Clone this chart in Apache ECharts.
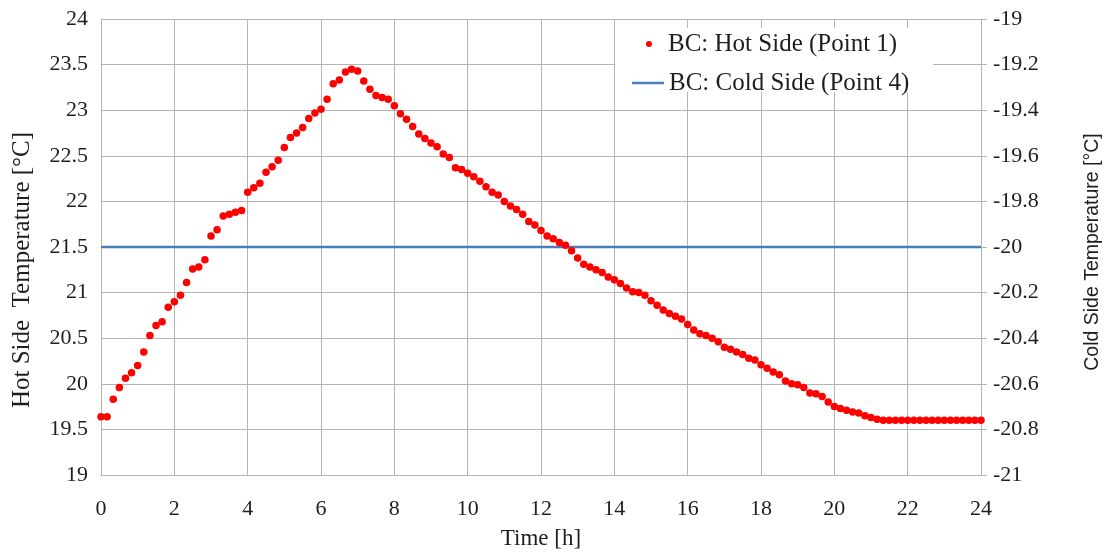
<!DOCTYPE html>
<html>
<head>
<meta charset="utf-8">
<script src="https://cdn.jsdelivr.net/npm/echarts@6/dist/echarts.min.js"></script>
<style>html,body{margin:0;padding:0;background:#fff}#c{width:1108px;height:556px}</style>
</head>
<body>
<div id="c"></div>
<script>
// Hot side temperature readings, one every 10 minutes (0 h ... 24 h)
const hotSide = [
19.64, 19.64, 19.83, 19.96, 20.06, 20.12, 20.20, 20.35, 20.53, 20.64,
20.68, 20.84, 20.90, 20.97, 21.11, 21.26, 21.28, 21.36, 21.62, 21.69,
21.84, 21.86, 21.88, 21.90, 22.10, 22.15, 22.20, 22.32, 22.38, 22.45,
22.59, 22.70, 22.75, 22.81, 22.91, 22.97, 23.01, 23.12, 23.29, 23.33,
23.42, 23.45, 23.43, 23.32, 23.23, 23.16, 23.14, 23.12, 23.05, 22.96,
22.90, 22.82, 22.74, 22.69, 22.64, 22.60, 22.52, 22.48, 22.37, 22.35,
22.31, 22.27, 22.22, 22.16, 22.10, 22.07, 22.00, 21.95, 21.91, 21.86,
21.78, 21.74, 21.68, 21.62, 21.59, 21.55, 21.52, 21.46, 21.38, 21.31,
21.28, 21.25, 21.22, 21.17, 21.14, 21.10, 21.05, 21.01, 21.00, 20.97,
20.91, 20.86, 20.81, 20.77, 20.74, 20.71, 20.65, 20.59, 20.55, 20.53,
20.50, 20.46, 20.40, 20.38, 20.35, 20.32, 20.28, 20.26, 20.21, 20.17,
20.13, 20.10, 20.03, 20.00, 19.99, 19.96, 19.90, 19.89, 19.86, 19.80,
19.75, 19.73, 19.71, 19.69, 19.68, 19.65, 19.63, 19.61, 19.60, 19.60,
19.60, 19.60, 19.60, 19.60, 19.60, 19.60, 19.60, 19.60, 19.60, 19.60,
19.60, 19.60, 19.60, 19.60, 19.60
];
const sampleStepHours = 10 / 60;
// Cold side boundary condition (constant)
const coldTimes = [0, 24];
const coldSide = [-20, -20];
const seriesNames = ['BC: Hot Side (Point 1)', 'BC: Cold Side (Point 4)'];
const axisNames = { x: 'Time [h]', left: 'Hot Side  Temperature [°C]', right: 'Cold Side Temperature [°C]' };

const hotData = hotSide.map((v, i) => [i * sampleStepHours, v]);
const coldData = coldTimes.map((t, i) => [t, coldSide[i]]);

const serif = 'Liberation Serif';
const gridColor = '#b4b4b4';
const txt = '#1e1e1e';

const chart = echarts.init(document.getElementById('c'), null, { renderer: 'canvas' });
chart.setOption({
  backgroundColor: '#ffffff',
  animation: false,
  grid: { left: 101, right: 127, top: 19, bottom: 81, containLabel: false, outerBoundsMode: 'none' },
  xAxis: {
    type: 'value', min: 0, max: 24, interval: 2,
    name: axisNames.x, nameLocation: 'middle', nameGap: 52,
    nameTextStyle: { fontFamily: serif, fontSize: 23, color: txt },
    axisLine: { show: true, lineStyle: { color: gridColor, width: 1 } },
    axisTick: { show: false },
    axisLabel: { margin: 23, fontFamily: serif, fontSize: 22, color: txt },
    splitLine: { show: true, lineStyle: { color: gridColor, width: 1 } }
  },
  yAxis: [
    {
      type: 'value', min: 19, max: 24, interval: 0.5, position: 'left',
      name: axisNames.left, nameLocation: 'middle', nameGap: 66,
      nameTextStyle: { fontFamily: serif, fontSize: 25, color: txt, padding: [0, 46, 0, 0] },
      axisLine: { show: true, lineStyle: { color: gridColor, width: 1 } },
      axisTick: { show: false },
      axisLabel: { margin: 13, fontFamily: serif, fontSize: 22, color: txt },
      splitLine: { show: true, lineStyle: { color: gridColor, width: 1 } }
    },
    {
      type: 'value', min: -21, max: -19, interval: 0.2, position: 'right',
      name: axisNames.right, nameLocation: 'middle', nameGap: 102, nameRotate: 90,
      nameTextStyle: { fontFamily: 'Liberation Sans', fontSize: 19.5, color: txt, padding: [0, 10, 0, 0] },
      axisLine: { show: true, lineStyle: { color: gridColor, width: 1 } },
      axisTick: { show: true, inside: false, length: 6, lineStyle: { color: gridColor } },
      axisLabel: { margin: 12, fontFamily: serif, fontSize: 22, color: txt,
        formatter: v => String(Math.round(v * 10) / 10) },
      splitLine: { show: false }
    }
  ],
  graphic: [{
    type: 'rect', left: 615, top: 28, z: 50,
    shape: { width: 318, height: 64 },
    style: { fill: '#ffffff' }
  }],
  legend: [
    {
      data: [{ name: seriesNames[0], icon: 'circle' }],
      left: 646, top: 30, z: 60, padding: 0,
      itemWidth: 28, itemHeight: 6,
      textStyle: { fontFamily: serif, fontSize: 25, color: txt, lineHeight: 28 }
    },
    {
      data: [{ name: seriesNames[1], icon: 'rect' }],
      left: 632, top: 69, z: 60, padding: 0,
      itemWidth: 32, itemHeight: 2.5,
      textStyle: { fontFamily: serif, fontSize: 25, color: txt, lineHeight: 28 }
    }
  ],
  series: [
    {
      name: seriesNames[0], type: 'scatter', yAxisIndex: 0,
      symbol: 'circle', symbolSize: 7.5,
      itemStyle: { color: '#ff0000', opacity: 1 },
      data: hotData, z: 3
    },
    {
      name: seriesNames[1], type: 'line', yAxisIndex: 1,
      symbol: 'none', showSymbol: false,
      lineStyle: { color: '#4a7ebb', width: 2.5 },
      itemStyle: { color: '#4a7ebb' },
      data: coldData, z: 2
    }
  ]
});
</script>
</body>
</html>
